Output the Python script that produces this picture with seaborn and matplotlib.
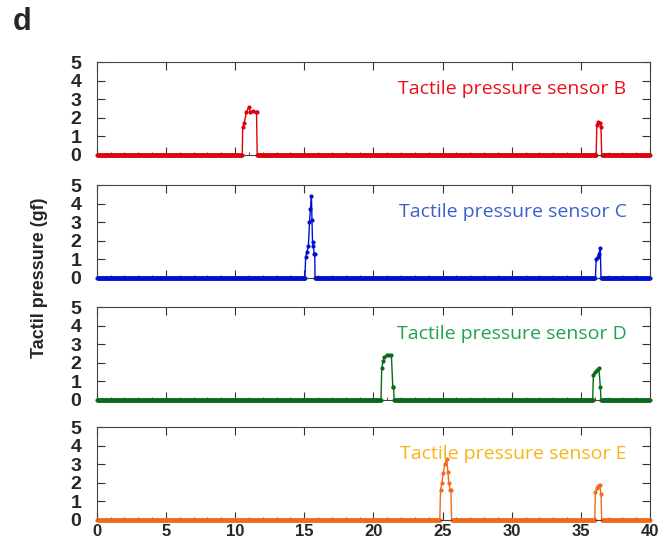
import matplotlib
matplotlib.use('Agg')
import matplotlib.pyplot as plt
import numpy as np
import seaborn as sns
from matplotlib.ticker import MultipleLocator

# time (s) and tactile pressure (gf) for each sensor
t_b = [0, 10.52, 10.55, 10.65, 10.82, 10.99, 11.1, 11.3, 11.5, 11.55, 11.6,
       36.1, 36.15, 36.25, 36.4, 36.45, 36.5, 40]
p_b = [0, 0, 1.5, 1.7, 2.3, 2.6, 2.3, 2.4, 2.3, 2.3, 0,
       0, 1.6, 1.8, 1.7, 1.5, 0, 0]

t_c = [0, 15.05, 15.1, 15.2, 15.3, 15.38, 15.45, 15.52, 15.56, 15.6, 15.65,
       15.72, 15.76, 15.78, 36.05, 36.1, 36.2, 36.3, 36.4, 36.45, 40]
p_c = [0, 0, 1.1, 1.4, 1.7, 3.0, 3.7, 4.4, 3.1, 1.9, 1.7,
       1.3, 1.3, 0, 0, 1.0, 1.1, 1.3, 1.6, 0, 0]

t_d = [0, 20.55, 20.6, 20.7, 20.8, 20.95, 21.1, 21.3, 21.4, 21.45, 21.5,
       35.85, 35.9, 36.0, 36.15, 36.3, 36.4, 36.45, 40]
p_d = [0, 0, 1.7, 2.1, 2.3, 2.4, 2.4, 2.4, 0.7, 0.7, 0,
       0, 1.35, 1.5, 1.6, 1.7, 0.7, 0, 0]

t_e = [0, 24.8, 24.85, 24.95, 25.05, 25.15, 25.3, 25.38, 25.45, 25.55, 25.6, 25.65,
       36.0, 36.05, 36.15, 36.25, 36.35, 36.45, 36.5, 40]
p_e = [0, 0, 1.6, 2.0, 2.5, 3.0, 3.3, 2.6, 2.0, 1.6, 1.6, 0,
       0, 1.5, 1.7, 1.8, 1.9, 1.4, 0, 0]

names = ['Tactile pressure sensor B', 'Tactile pressure sensor C',
         'Tactile pressure sensor D', 'Tactile pressure sensor E']
line_colors = ['#e0000b', '#0010d0', '#0a6a1a', '#f26b1d']
text_colors = ['#e8101a', '#3a5fcd', '#1fa34a', '#f5b51b']
series = [(t_b, p_b), (t_c, p_c), (t_d, p_d), (t_e, p_e)]

x_ticks = [0, 5, 10, 15, 20, 25, 30, 35, 40]
y_ticks = [0, 1, 2, 3, 4, 5]

sns.set_style('ticks')
plt.rcParams['font.family'] = ['Liberation Sans', 'DejaVu Sans']

fig = plt.figure(figsize=(6.58, 5.38), dpi=100)

left, width = 0.147, 0.841
bottoms = [0.712, 0.484, 0.257, 0.034]
height = 0.172

for i, ((t, p), name) in enumerate(zip(series, names)):
    ax = fig.add_axes([left, bottoms[i], width, height])
    t = np.array(t, dtype=float)
    p = np.array(p, dtype=float)

    # thin trace with dots
    sns.lineplot(x=t, y=p, ax=ax, color=line_colors[i], linewidth=1.0,
                 marker='o', markersize=3, markeredgewidth=0,
                 sort=False, estimator=None, clip_on=False)
    # heavy baseline where the sensor reads zero
    base = np.where(p == 0, p, np.nan)
    ax.plot(t, base, color=line_colors[i], linewidth=3.5, clip_on=False,
            solid_capstyle='butt', zorder=3)

    ax.set_xlim(0, 40)
    ax.set_ylim(0, 5)
    ax.set_xticks(x_ticks)
    ax.set_yticks(y_ticks)
    ax.xaxis.set_minor_locator(MultipleLocator(1))
    ax.tick_params(axis='both', which='major', direction='in', length=6,
                   width=0.8, color='#333333', top=True, right=True)
    ax.tick_params(axis='x', which='minor', direction='in', length=2.5,
                   width=0.8, color='#555555', top=False, bottom=True)
    ax.tick_params(axis='y', labelsize=14, pad=11)
    ax.tick_params(axis='x', labelsize=12, pad=3)
    for lab in ax.get_yticklabels() + ax.get_xticklabels():
        lab.set_fontweight('bold')
    if i < 3:
        ax.set_xticklabels([])
    for s in ax.spines.values():
        s.set_linewidth(0.8)
        s.set_color('#444444')
    ax.set_xlabel('')
    ax.set_ylabel('')

    ax.text(38.3, 3.55, name, color=text_colors[i], fontsize=14,
            family=['Open Sans', 'DejaVu Sans'], ha='right', va='center')

fig.text(40 / 658, 1 - 278 / 538, 'Tactil pressure (gf)', rotation=90,
         fontsize=13, fontweight='bold', ha='center', va='center')
fig.text(13 / 658, 1 - 22 / 538, 'd', fontsize=22, fontweight='bold',
         ha='left', va='center')

fig.savefig('out.png', dpi=100)
